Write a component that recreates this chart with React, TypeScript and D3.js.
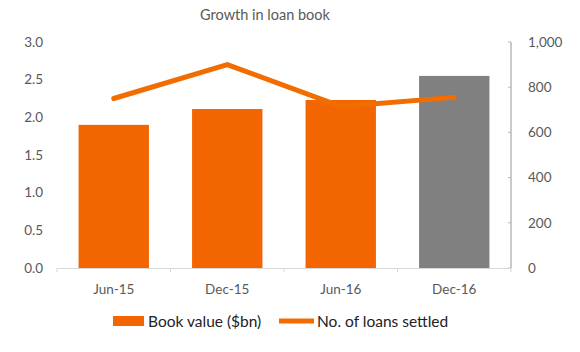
import React from "react";
import * as d3 from "d3";

const categories = ["Jun-15", "Dec-15", "Jun-16", "Dec-16"];
const bookValue = [1.9, 2.11, 2.23, 2.55];
const loansSettled = [750, 900, 715, 755];
const leftTicks = [0, 0.5, 1.0, 1.5, 2.0, 2.5, 3.0];
const rightTicks = [0, 200, 400, 600, 800, 1000];
const barColors = ["#F36500", "#F36500", "#F36500", "#808080"];

const W = 580;
const H = 352;
const FONT = "Lato, 'Open Sans', sans-serif";

export default function App() {
  const x0 = 57, x1 = 511, yTop = 42, yBot = 268;
  const x = d3.scaleBand<string>().domain(categories).range([x0, x1]).paddingInner(0.38).paddingOuter(0.19);
  const band = d3.scaleBand<string>().domain(categories).range([x0, x1]);
  const yL = d3.scaleLinear().domain([0, 3]).range([yBot, yTop]);
  const yR = d3.scaleLinear().domain([0, 1000]).range([yBot, yTop]);
  const line = d3
    .line<number>()
    .x((_, i) => (band(categories[i]) as number) + band.bandwidth() / 2)
    .y((d) => yR(d));
  const fmt = d3.format(",");
  const axisCol = "#B8B8B8";
  const textCol = "#595959";
  return (
    <svg width={W} height={H} style={{ position: "absolute", left: 0, top: 0, background: "#fff" }} fontFamily={FONT}>
      <text x={265} y={20} textAnchor="middle" fontSize={14.5} fill={textCol}>
        Growth in loan book
      </text>
      {leftTicks.map((t) => (
        <text key={t} x={43} y={yL(t)} dy="0.35em" textAnchor="end" fontSize={13.5} fill={textCol}>
          {d3.format(".1f")(t)}
        </text>
      ))}
      {rightTicks.map((t) => (
        <g key={t}>
          <line x1={x1 - 3} x2={x1} y1={yR(t)} y2={yR(t)} stroke={axisCol} strokeWidth={1} />
          <text x={528} y={yR(t)} dy="0.35em" textAnchor="start" fontSize={13.5} fill={textCol}>
            {fmt(t)}
          </text>
        </g>
      ))}
      <line x1={x1} x2={x1} y1={yTop} y2={yBot} stroke={axisCol} strokeWidth={1.5} />
      {categories.map((c, i) => (
        <rect key={c} x={x(c)} y={yL(bookValue[i])} width={x.bandwidth()} height={yBot - yL(bookValue[i])} fill={barColors[i]} />
      ))}
      <line x1={x0} x2={x1} y1={yBot + 0.5} y2={yBot + 0.5} stroke="#D9D9D9" strokeWidth={1} />
      {[...categories.map((c) => band(c) as number), x1].map((t, i) => (
        <line key={i} x1={t} x2={t} y1={yBot} y2={yBot + 4} stroke="#D9D9D9" strokeWidth={1} />
      ))}
      <path d={line(loansSettled) || ""} fill="none" stroke="#F36C00" strokeWidth={5} strokeLinejoin="round" strokeLinecap="round" />
      {categories.map((c) => (
        <text key={c} x={(band(c) as number) + band.bandwidth() / 2} y={294} textAnchor="middle" fontSize={13.5} fill={textCol}>
          {c}
        </text>
      ))}
      <rect x={113} y={316} width={31} height={10} fill="#F36500" />
      <text x={148} y={327} fontSize={15.5} fill="#222">Book value ($bn)</text>
      <line x1={279} x2={314} y1={321} y2={321} stroke="#F36C00" strokeWidth={5} />
      <text x={317} y={327} fontSize={15.5} fill="#222">No. of loans settled</text>
    </svg>
  );
}
